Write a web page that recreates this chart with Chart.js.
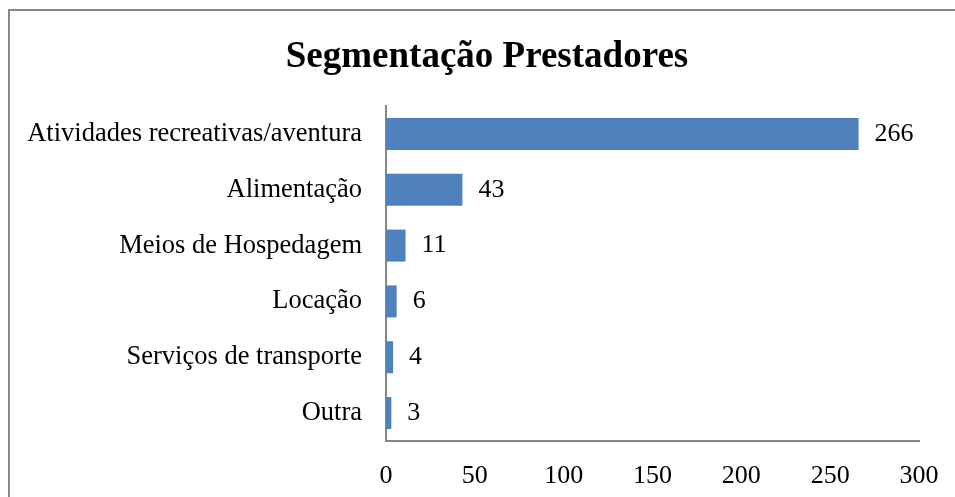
<!DOCTYPE html>
<html lang="pt">
<head>
<meta charset="utf-8">
<title>Segmentação Prestadores</title>
<script src="https://cdn.jsdelivr.net/npm/chart.js@4"></script>
<style>
  html, body { margin: 0; padding: 0; background: #fff; overflow: hidden; }
  #wrap { position: relative; width: 955px; height: 497px; }
  #frame {
    position: absolute; left: 8px; top: 9px;
    width: 1000px; height: 600px;
    border: 2px solid #888; box-sizing: border-box;
  }
  #chart { position: absolute; left: 0; top: 0; }
</style>
</head>
<body>
<div id="wrap">
  <div id="frame"></div>
  <canvas id="chart" width="955" height="497"></canvas>
</div>
<script>
const categories = [
  'Atividades recreativas/aventura',
  'Alimentação',
  'Meios de Hospedagem',
  'Locação',
  'Serviços de transporte',
  'Outra'
];
const values = [266, 43, 11, 6, 4, 3];
const xTicks = [0, 50, 100, 150, 200, 250, 300];
const chartTitle = 'Segmentação Prestadores';

const FONT = "'Liberation Serif', 'Times New Roman', serif";
const AXIS_COLOR = '#868686';

// title is drawn by hand so it can sit off-centre like the original
const titlePlugin = {
  id: 'fixedTitle',
  afterDraw(chart) {
    const ctx = chart.ctx;
    ctx.save();
    ctx.font = 'bold 37px ' + FONT;
    ctx.fillStyle = '#000';
    ctx.textAlign = 'center';
    ctx.textBaseline = 'alphabetic';
    ctx.fillText(chartTitle, 487, 67);
    ctx.restore();
  }
};

// value to the right of each bar
const valueLabels = {
  id: 'valueLabels',
  afterDatasetsDraw(chart) {
    const ctx = chart.ctx;
    const meta = chart.getDatasetMeta(0);
    ctx.save();
    ctx.font = '26px ' + FONT;
    ctx.fillStyle = '#000';
    ctx.textAlign = 'left';
    ctx.textBaseline = 'middle';
    meta.data.forEach((bar, i) => {
      ctx.fillText(String(values[i]), bar.x + 16, bar.y);
    });
    ctx.restore();
  }
};

new Chart(document.getElementById('chart'), {
  type: 'bar',
  data: {
    labels: categories,
    datasets: [{
      data: values,
      backgroundColor: '#4F81BD',
      borderWidth: 0,
      categoryPercentage: 1,
      barPercentage: 0.573
    }]
  },
  options: {
    indexAxis: 'y',
    responsive: false,
    animation: false,
    layout: { padding: { left: 0, right: 0, top: 106, bottom: 0 } },
    plugins: {
      legend: { display: false },
      tooltip: { enabled: false },
      title: { display: false }
    },
    scales: {
      x: {
        min: 0,
        max: 300,
        afterBuildTicks: (s) => { s.ticks = xTicks.map(v => ({ value: v })); },
        afterFit: (s) => {
          s.height = 497 - 441;
          s.paddingRight = 955 - 919;
        },
        grid: { display: false, drawTicks: false },
        border: { display: true, color: AXIS_COLOR, width: 2 },
        ticks: { color: '#000', padding: 20, maxRotation: 0, font: { family: FONT, size: 26 } }
      },
      y: {
        afterFit: (s) => { s.width = 386; },
        grid: { display: false, drawTicks: false },
        border: { display: true, color: AXIS_COLOR, width: 2 },
        ticks: { color: '#000', padding: 24, font: { family: FONT, size: 26.5 } }
      }
    }
  },
  plugins: [valueLabels, titlePlugin]
});
</script>
</body>
</html>
